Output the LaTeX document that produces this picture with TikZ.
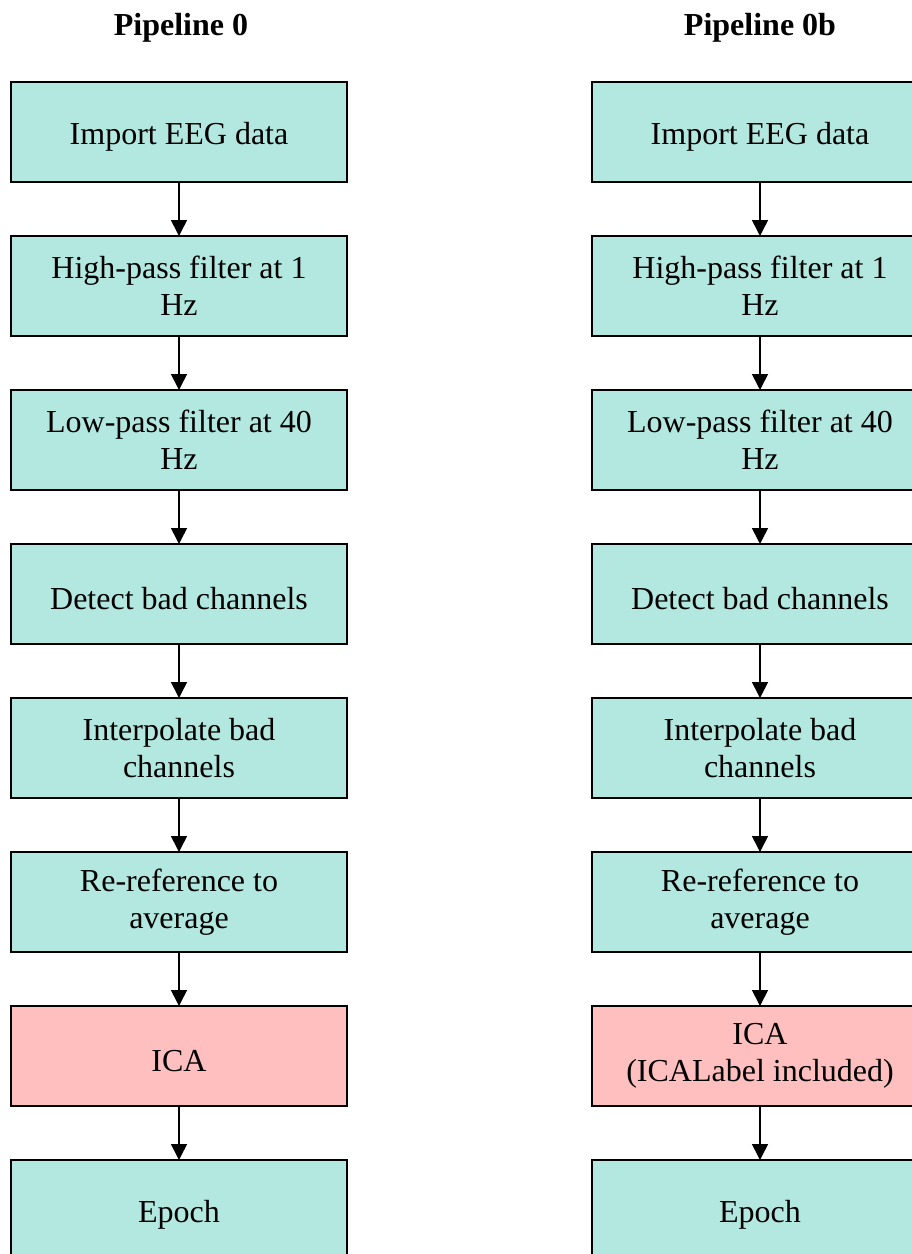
\documentclass[tikz,border=0pt]{standalone}
\usepackage{fontspec}
\setmainfont{Liberation Serif}
\usetikzlibrary{positioning,arrows.meta}
\definecolor{pasoTurquesa}{HTML}{B3E8E0}
\definecolor{pasoRosa}{HTML}{FFBFBF}

\begin{document}
\begin{tikzpicture}[
  font=\fontsize{32}{37}\selectfont,
  node distance=54pt and 245pt,
  >={Triangle[width=16pt,length=16pt]},
  paso/.style={
    rectangle, draw=black, fill=pasoTurquesa, line width=1.5pt,
    minimum width=336pt, minimum height=100pt, inner sep=0pt,
    outer sep=0pt, align=center,
    execute at begin node={\rule{0pt}{31pt}}
  },
  pasoica/.style={
    paso, fill=pasoRosa
  },
  flecha/.style={->, line width=1.6pt}
]
  \useasboundingbox (0,0) rectangle (912pt,-1254pt);

  % Titulos
  \node[anchor=base, font=\fontsize{32}{37}\selectfont\bfseries] (tit0) at (181pt,-35pt) {Pipeline 0};
  \node[anchor=base, font=\fontsize{32}{37}\selectfont\bfseries] (tit0b) at (760pt,-35pt) {Pipeline 0b};

  % Pipeline 0
  \node[paso] (imp0) at (179pt,-132pt) {Import EEG data};
  \node[paso, below=of imp0] (hp0) {High-pass filter at 1\\Hz};
  \node[paso, below=of hp0] (lp0) {Low-pass filter at 40\\Hz};
  \node[paso, below=of lp0] (det0) {Detect bad channels};
  \node[paso, below=of det0] (int0) {Interpolate bad\\channels};
  \node[paso, below=of int0] (ref0) {Re-reference to\\average};
  \node[pasoica, below=of ref0] (ica0) {ICA};
  \node[paso, below=of ica0] (epo0) {Epoch};

  % Pipeline 0b
  \node[paso, right=of imp0] (imp0b) {Import EEG data};
  \node[paso, below=of imp0b] (hp0b) {High-pass filter at 1\\Hz};
  \node[paso, below=of hp0b] (lp0b) {Low-pass filter at 40\\Hz};
  \node[paso, below=of lp0b] (det0b) {Detect bad channels};
  \node[paso, below=of det0b] (int0b) {Interpolate bad\\channels};
  \node[paso, below=of int0b] (ref0b) {Re-reference to\\average};
  \node[pasoica, below=of ref0b] (ica0b) {ICA\\(ICALabel included)};
  \node[paso, below=of ica0b] (epo0b) {Epoch};

  % Flechas
  \draw[flecha] (imp0) -- (hp0);
  \draw[flecha] (hp0) -- (lp0);
  \draw[flecha] (lp0) -- (det0);
  \draw[flecha] (det0) -- (int0);
  \draw[flecha] (int0) -- (ref0);
  \draw[flecha] (ref0) -- (ica0);
  \draw[flecha] (ica0) -- (epo0);

  \draw[flecha] (imp0b) -- (hp0b);
  \draw[flecha] (hp0b) -- (lp0b);
  \draw[flecha] (lp0b) -- (det0b);
  \draw[flecha] (det0b) -- (int0b);
  \draw[flecha] (int0b) -- (ref0b);
  \draw[flecha] (ref0b) -- (ica0b);
  \draw[flecha] (ica0b) -- (epo0b);

\end{tikzpicture}
\end{document}
